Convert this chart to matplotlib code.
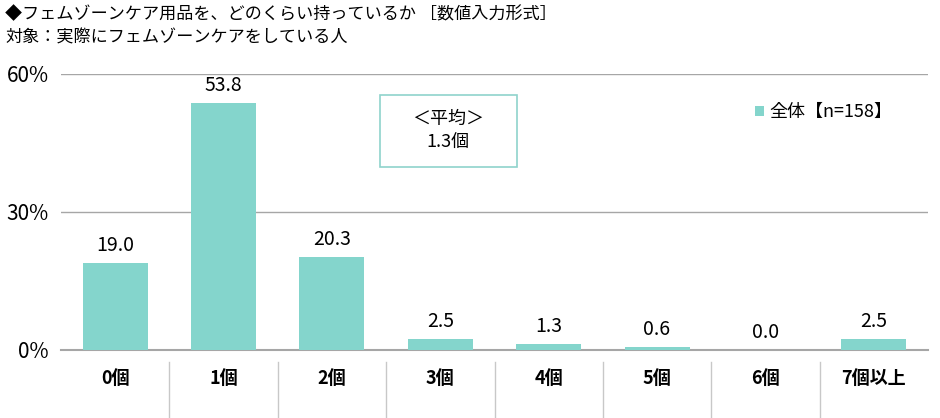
import matplotlib
matplotlib.use('Agg')
import matplotlib.pyplot as plt
from matplotlib.lines import Line2D
from matplotlib.patches import Rectangle
import matplotlib.transforms as mtransforms

plt.rcParams['font.family'] = ['Noto Sans CJK JP', 'DejaVu Sans']

# data
categories = ['0個', '1個', '2個', '3個', '4個', '5個', '6個', '7個以上']
values = [19.0, 53.8, 20.3, 2.5, 1.3, 0.6, 0.0, 2.5]
y_ticks = [0, 30, 60]
series_name = '全体【n=158】'
title1 = '◆フェムゾーンケア用品を、どのくらい持っているか ［数値入力形式］'
title2 = '対象：実際にフェムゾーンケアをしている人'
avg_text = '＜平均＞\n1.3個'

bar_color = '#84D5CC'
grid_color = '#a6a6a6'

fig = plt.figure(figsize=(9.4, 4.18), dpi=100)
ax = fig.add_axes([61 / 940, 68 / 418, 867 / 940, 276 / 418])

x = list(range(len(categories)))
bars = ax.bar(x, values, width=0.6, color=bar_color, zorder=3, label=series_name)

ax.set_xlim(-0.5, len(categories) - 0.5)
ax.set_ylim(0, 60)
ax.set_yticks(y_ticks)
ax.set_yticklabels([f'{t}%' for t in y_ticks], fontsize=15)
ax.yaxis.grid(True, color=grid_color, linewidth=1, zorder=0)
ax.set_xticks(x)
ax.set_xticklabels(categories, fontsize=13, fontweight='bold')
ax.tick_params(axis='x', length=0, pad=14)
ax.tick_params(axis='y', length=0, pad=9)
for s in ['top', 'right', 'left']:
    ax.spines[s].set_visible(False)
ax.spines['bottom'].set_color(grid_color)
ax.spines['bottom'].set_linewidth(1.5)

# value labels
for b, v in zip(bars, values):
    ax.annotate(f'{v:.1f}', (b.get_x() + b.get_width() / 2, v),
                xytext=(0, 5), textcoords='offset points',
                ha='center', va='bottom', fontsize=14)

# separators between categories below the axis
trans = mtransforms.blended_transform_factory(ax.transData, ax.transAxes)
for i in range(len(categories) - 1):
    ax.add_line(Line2D([i + 0.5, i + 0.5], [-0.045, -0.25], transform=trans,
                       color='#c8c8c8', linewidth=1, clip_on=False))

# average box
fig.patches.append(Rectangle((380 / 940, 1 - 167 / 418), 137 / 940, 72 / 418,
                             transform=fig.transFigure, facecolor='white',
                             edgecolor='#8fd3cc', linewidth=1.2, zorder=5))
fig.text(448 / 940, 1 - 131 / 418, avg_text, ha='center', va='center',
         fontsize=13, linespacing=1.45, zorder=6)

# legend
leg = ax.legend(loc='upper left', frameon=False, fontsize=13,
                handlelength=0.5, handleheight=0.5, handletextpad=0.3,
                borderaxespad=0)
leg.set_bbox_to_anchor((748 / 940, 1 - 96 / 418), transform=fig.transFigure)

fig.text(5 / 940, 1 - 14 / 418, title1, ha='left', va='center', fontsize=12.3)
fig.text(5 / 940, 1 - 38 / 418, title2, ha='left', va='center', fontsize=12.3)

fig.savefig('out.png', dpi=100)
